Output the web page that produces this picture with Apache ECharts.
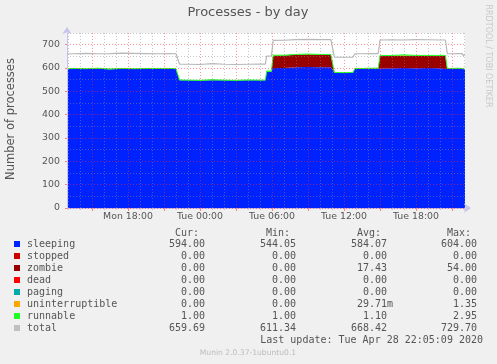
<!DOCTYPE html>
<html><head><meta charset="utf-8">
<script src="https://cdn.jsdelivr.net/npm/echarts@6/dist/echarts.min.js"></script>
<style>html,body{margin:0;padding:0;background:#f0f0f0}#c{width:497px;height:364px}</style>
</head><body><div id="c"></div>
<script>
// time in hours since Mon 2020-04-27 00:00
const times = [12.92,13.5,14.5,15.5,16.5,17.5,18.5,19.5,20.5,21.5,22.0,22.3,23,24,25,26,27,28,29,29.45,29.55,29.95,30.1,31,32,33,34,34.9,35.2,36,36.75,36.9,37.5,38.3,38.85,39.0,40,41,42,43,44,44.45,44.6,45,45.5,45.85,45.95,46.08];
const sleeping = [596,597,596,597,595,597,596,597,596,597,596, 548,547,546,548,547,546,548,547,547, 584,584, 600,600,603,604,603,603, 580,579,580, 597,597,598,598, 598,599,600,599,600,599,599, 597,597,598,597,592,594];
const stopped = [0,0,0,0,0,0,0,0,0,0,0, 0,0,0,0,0,0,0,0,0, 0,0, 0,0,0,0,0,0, 0,0,0, 0,0,0,0, 0,0,0,0,0,0,0, 0,0,0,0,0,0];
const zombie = [0,0,0,0,0,0,0,0,0,0,0, 0,0,0,0,0,0,0,0,0, 0,0, 54,54,54,54,54,54, 0,0,0, 0,0,0,0, 54,54,53,54,53,54,54, 0,0,0,0,0,0];
const dead = [0,0,0,0,0,0,0,0,0,0,0, 0,0,0,0,0,0,0,0,0, 0,0, 0,0,0,0,0,0, 0,0,0, 0,0,0,0, 0,0,0,0,0,0,0, 0,0,0,0,0,0];
const paging = [0,0,0,0,0,0,0,0,0,0,0, 0,0,0,0,0,0,0,0,0, 0,0, 0,0,0,0,0,0, 0,0,0, 0,0,0,0, 0,0,0,0,0,0,0, 0,0,0,0,0,0];
const uninterruptible = [0,0,0,0,0,0,0,0,0,0,0, 0,0,0,0,0,0,0,0,0, 0,0, 0,0,0,0,0,0, 0,0,0, 0,0,0,0, 0,0,1.35,0,0,0,0, 0,0,0,0,0,0];
const runnable = [1,1,1,2,1,1,1,1,2,1,1, 1,1,1,2,1,1,1,1,1, 3,3, 1,1,1,2,1,1, 1,1,1, 1,1,1,1, 1,1,2,1,1,1,1, 1,1,1,1,1,1];
const total = [660,661,663,661,662,664,663,662,661,662,661, 616,616,615,619,616,615,616,617,617, 651,652, 718,719,722,723,722,722, 647,646,647, 661,661,662,662, 720,721,720,722,721,720,720, 662,661,662,662,652,660];

const xLabelHours = [18,24,30,36,42];
const xLabels = ['Mon 18:00','Tue 00:00','Tue 06:00','Tue 12:00','Tue 18:00'];
const xMajorHours = [15,18,21,24,27,30,33,36,39,42,45];
const xMinorHours = [13,14,16,17,19,20,22,23,25,26,28,29,31,32,34,35,37,38,40,41,43,44,46];
const yMajor = [0,100,200,300,400,500,600,700];
const yMinor = [50,150,250,350,450,550,650,750];

const legendNames = ['sleeping','stopped','zombie','dead','paging','uninterruptible','runnable','total'];
const legendCur = ['594.00','0.00','0.00','0.00','0.00','0.00','1.00','659.69'];
const legendMin = ['544.05','0.00','0.00','0.00','0.00','0.00','1.00','611.34'];
const legendAvg = ['584.07','0.00','17.43','0.00','0.00','29.71m','1.10','668.42'];
const legendMax = ['604.00','0.00','54.00','0.00','0.00','1.35','2.95','729.70'];
const headers = ['Cur:','Min:','Avg:','Max:'];
const lastUpdate = 'Last update: Tue Apr 28 22:05:09 2020';
const footer = 'Munin 2.0.37-1ubuntu0.1';

const colors = ['#0022ff','#cc0000','#990000','#ff0000','#00aaaa','#ffa500','#22ff22','#c0c0c0'];

const BASE = Date.UTC(2020, 3, 27, 0, 0, 0);
const ms = h => BASE + h * 3600000;
const stackSeries = [sleeping, stopped, zombie, dead, paging, uninterruptible, runnable];
const pair = arr => times.map((t, i) => [ms(t), arr[i]]);

const series = stackSeries.map((arr, k) => ({
  name: legendNames[k], type: 'line', stack: 'p', data: pair(arr), xAxisIndex: 2,
  symbol: 'none', showSymbol: false, z: 2,
  lineStyle: k === 6 ? {color: colors[6], width: 1} : {width: 0},
  areaStyle: {color: colors[k], opacity: 1}
}));
series.push({name: 'total', type: 'line', data: pair(total), xAxisIndex: 2, symbol: 'none', showSymbol: false, z: 12,
  lineStyle: {color: '#b8b8b8', width: 1.2}});

const F = 'DejaVu Sans';
const M = '"DejaVu Sans Mono"';
const txt = '#555';
const graphics = [];
function T(x, y, text, font, fill, align, rot) {
  graphics.push({type: 'text', x: x, y: y, rotation: rot || 0, z: 50,
    style: {text: text, font: font, fill: fill, align: align, textAlign: align, verticalAlign: 'middle', textVerticalAlign: 'middle'}});
}
T(248, 13, 'Processes - by day', '13px "' + F + '"', txt, 'center');
T(11, 119, 'Number of processes', '11.5px "' + F + '"', txt, 'center', Math.PI / 2);
T(488, 56, 'RRDTOOL / TOBI OETIKER', '8px "' + F + '"', '#c8c8c8', 'center', -Math.PI / 2);
const colRight = [205, 296, 387, 477];
headers.forEach((h, j) => T(colRight[j] - 6, 233, h, '10px ' + M, txt, 'right'));
const cols = [legendCur, legendMin, legendAvg, legendMax];
legendNames.forEach((n, i) => {
  const y = 244 + 12 * i;
  graphics.push({type: 'rect', shape: {x: 14, y: y - 3, width: 6, height: 6}, style: {fill: colors[i]}, z: 50});
  T(27, y, n, '10px ' + M, txt, 'left');
  cols.forEach((c, j) => {
    const v = c[i];
    const hasSuffix = /[a-zA-Z]$/.test(v);
    T(colRight[j] + (hasSuffix ? 6 : 0), y, v, '10px ' + M, txt, 'right');
  });
});
T(483, 340.5, lastUpdate, '10px ' + M, txt, 'right');
T(248, 353, footer, '7.6px "' + F + '"', '#bcbcbc', 'center');

const chart = echarts.init(document.getElementById('c'), null, {renderer: 'canvas'});
const hMin = times[0], hMax = times[times.length - 1];
chart.setOption({
  animation: false,
  backgroundColor: '#f0f0f0',
  grid: {left: 67, right: 32, top: 33, bottom: 156, show: true, backgroundColor: '#ffffff', borderWidth: 0},
  xAxis: [
    {type: 'value', min: hMin, max: hMax, position: 'bottom', z: 5,
     axisLine: {show: true, lineStyle: {color: '#c4c4ee', width: 1}, symbol: ['none', 'arrow'], symbolSize: [7, 7], symbolOffset: [0, 6]},
     axisTick: {show: true, length: 2, customValues: xMinorHours, lineStyle: {color: '#c8c8c8'}},
     axisLabel: {customValues: xLabelHours, margin: 4, color: txt, fontFamily: F, fontSize: 9.4,
       formatter: v => { const i = xLabelHours.indexOf(Math.round(v)); return i >= 0 ? xLabels[i] : ''; }},
     splitLine: {show: true, lineStyle: {color: 'rgba(140,140,140,0.5)', width: 1, type: [1, 2]}}},
    {type: 'value', min: hMin, max: hMax, position: 'bottom', z: 6,
     axisLine: {show: false},
     axisTick: {show: true, length: 3, customValues: xMajorHours, lineStyle: {color: '#ff8080'}},
     axisLabel: {show: false},
     splitLine: {show: true, lineStyle: {color: 'rgba(255,40,40,0.5)', width: 1, type: [1, 2]}}},
    {type: 'time', min: ms(hMin), max: ms(hMax), show: false}
  ],
  yAxis: [
    {type: 'value', min: 0, max: 750, position: 'left', z: 6,
     axisLine: {show: true, lineStyle: {color: '#c4c4ee', width: 1}, symbol: ['none', 'arrow'], symbolSize: [7, 7], symbolOffset: [0, 6]},
     axisTick: {show: true, length: 2, customValues: yMajor, lineStyle: {color: '#ff8080'}},
     axisLabel: {customValues: yMajor, margin: 7, color: txt, fontFamily: F, fontSize: 9.4},
     splitLine: {show: true, lineStyle: {color: 'rgba(255,40,40,0.5)', width: 1, type: [1, 2]}}},
    {type: 'value', min: 0, max: 750, position: 'left', z: 5,
     axisLine: {show: false},
     axisTick: {show: false, customValues: yMinor},
     axisLabel: {show: false},
     splitLine: {show: true, lineStyle: {color: 'rgba(140,140,140,0.5)', width: 1, type: [1, 2]}}}
  ],
  series: series,
  graphic: graphics
});
</script>
</body></html>
